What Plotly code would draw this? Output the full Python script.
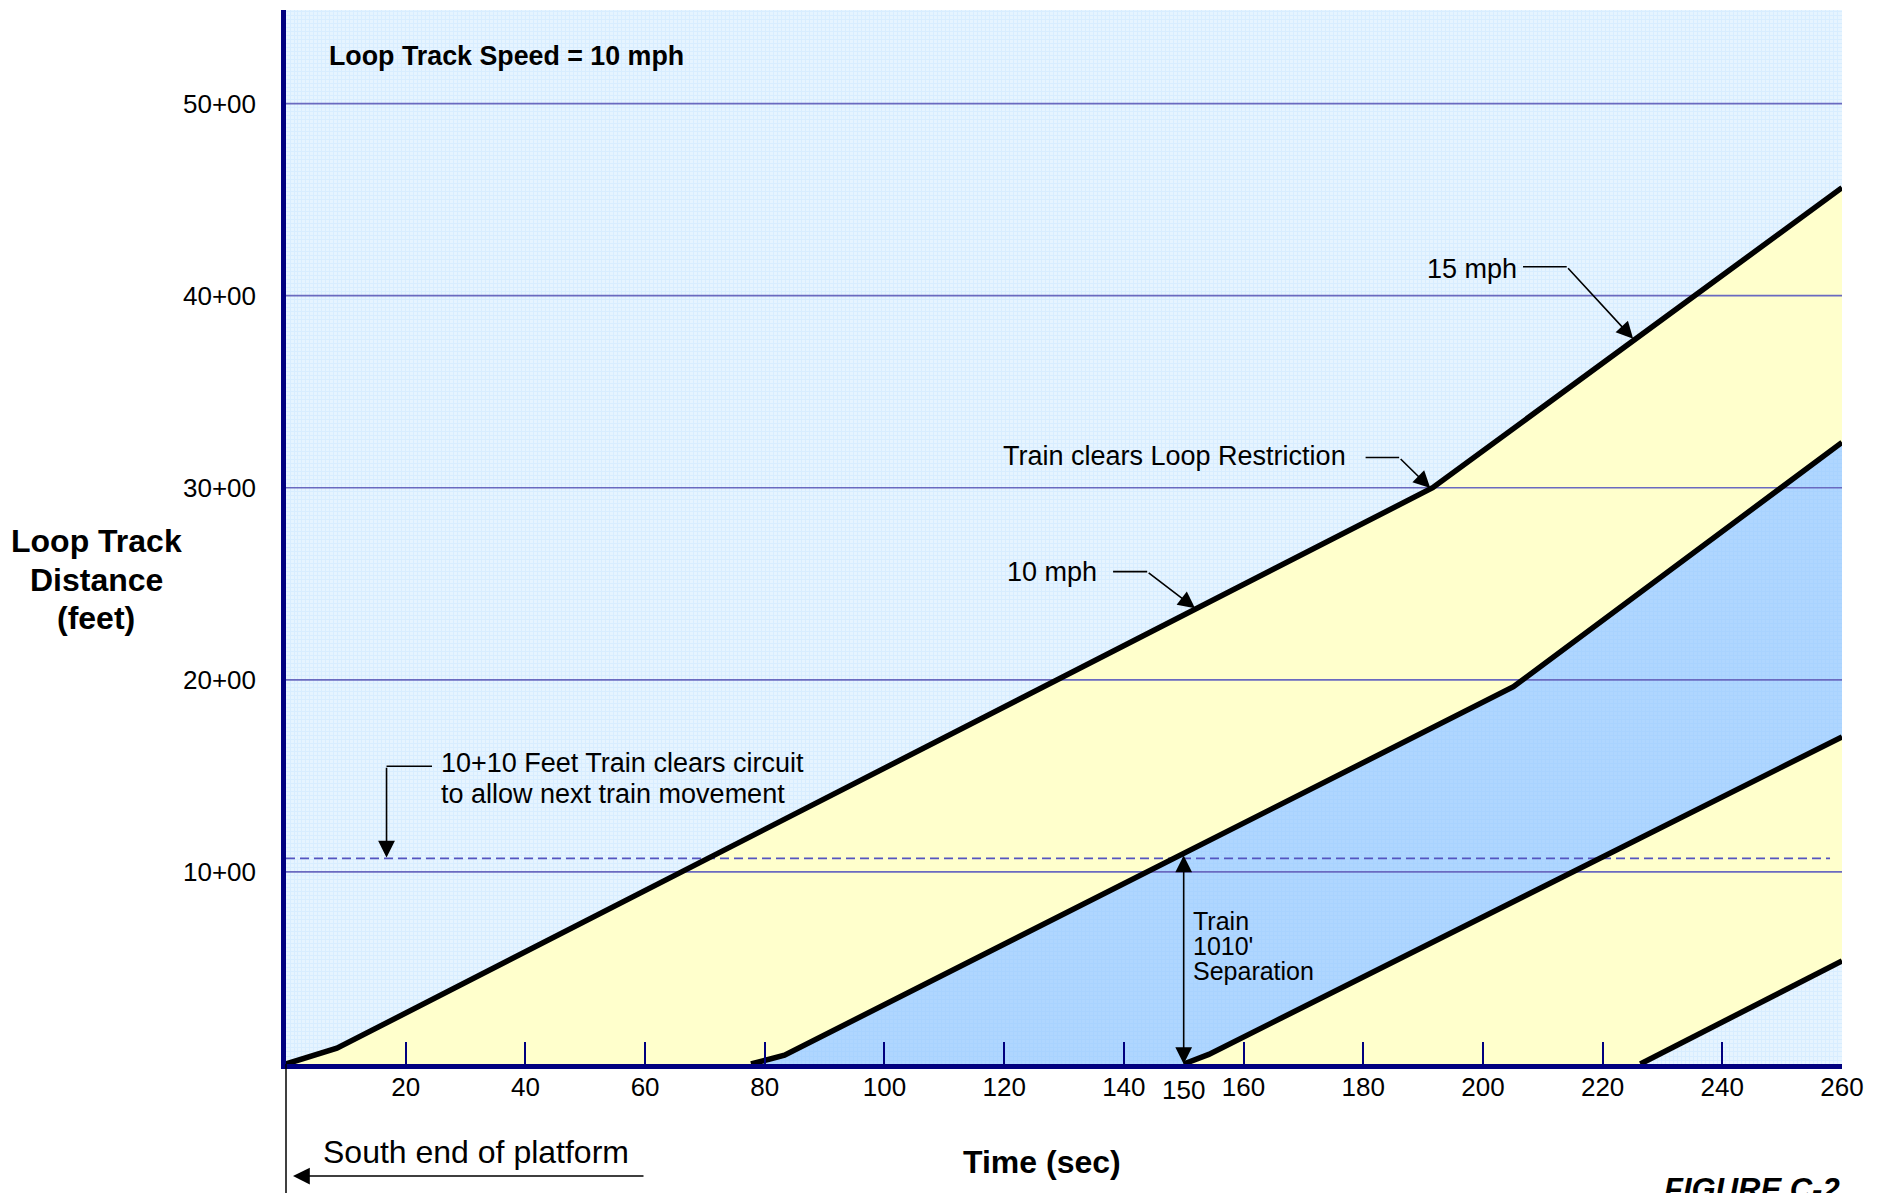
import plotly.graph_objects as go

# ---------------- data ----------------
# time (sec) / loop-track distance (feet) of the train boundary lines
train1_head_t = [0, 8.5, 191.6, 260]
train1_head_d = [0, 82, 3000, 4562]
train1_tail_t = [77.7, 83.3, 205.1, 260]
train1_tail_d = [0, 46, 1964, 3236]
train2_head_t = [150, 154.2, 260]
train2_head_d = [0, 50, 1703]
train2_tail_t = [226.3, 260]
train2_tail_d = [0, 537]

x_tick_vals = [20, 40, 60, 80, 100, 120, 140, 160, 180, 200, 220, 240, 260]
y_tick_vals = [1000, 2000, 3000, 4000, 5000]
y_tick_text = ["10+00", "20+00", "30+00", "40+00", "50+00"]

circuit_clear_d = 1070       # dashed "10+10 feet" line
separation_t = 150           # time of the separation measurement
separation_top_d = 1093      # tail of train 1 at t = 150

X_MAX = 260
Y_MAX = 5487

# ---------------- styles ----------------
FONT = "Arial, Liberation Sans, Helvetica, sans-serif"
NAVY = "#00007F"
GRID = "#6A6AC0"
BG = "#E6F4FF"
YELLOW = "#FFFFCC"
BLUE = "rgba(140,196,255,0.62)"

fig = go.Figure()

# filled bands
def band(top_t, top_d, bot_t, bot_d, color):
    xs = list(top_t) + list(bot_t)[::-1] + [top_t[0]]
    ys = list(top_d) + list(bot_d)[::-1] + [top_d[0]]
    fig.add_trace(go.Scatter(x=xs, y=ys, mode="lines", fill="toself",
                             fillcolor=color, line=dict(width=0),
                             hoverinfo="skip", showlegend=False))

band(train1_head_t, train1_head_d, [0] + train1_tail_t, [0] + train1_tail_d, YELLOW)
band(train1_tail_t, train1_tail_d, train2_head_t, train2_head_d, BLUE)
band(train2_head_t, train2_head_d, train2_tail_t, train2_tail_d, YELLOW)

# horizontal gridlines drawn over the bands
for v in y_tick_vals:
    fig.add_trace(go.Scatter(x=[0, X_MAX], y=[v, v], mode="lines",
                             line=dict(color=GRID, width=1.7),
                             hoverinfo="skip", showlegend=False))

# dashed circuit-clear line
fig.add_trace(go.Scatter(x=[0, 258], y=[circuit_clear_d, circuit_clear_d], mode="lines",
                         line=dict(color="#5454C0", width=1.8, dash="9px,5px"),
                         hoverinfo="skip", showlegend=False))

# thick black train lines
for t, d in [(train1_head_t, train1_head_d), (train1_tail_t, train1_tail_d),
             (train2_head_t, train2_head_d), (train2_tail_t, train2_tail_d)]:
    fig.add_trace(go.Scatter(x=t, y=d, mode="lines",
                             line=dict(color="black", width=5.5),
                             hoverinfo="skip", showlegend=False))

# leader line segments (horizontal parts)
for xs, ys in [([206.7, 214.0], [4150, 4150]),
               ([180.4, 186.0], [3157, 3157]),
               ([138.2, 143.9], [2563, 2563]),
               ([24.4, 16.8], [1550, 1550])]:
    fig.add_trace(go.Scatter(x=xs, y=ys, mode="lines",
                             line=dict(color="black", width=1.6),
                             hoverinfo="skip", showlegend=False))

ann = []

def arrow(x, y, ax, ay, **kw):
    d = dict(x=x, y=y, ax=ax, ay=ay, xref="x", yref="y", axref="x", ayref="y",
             text="", showarrow=True, arrowhead=2, arrowsize=2.1, arrowwidth=1.6,
             arrowcolor="black")
    d.update(kw)
    ann.append(d)

arrow(225.1, 3775, 214.0, 4150)
arrow(191.2, 2998, 186.0, 3157)
arrow(151.9, 2372, 143.9, 2563)
arrow(16.8, circuit_clear_d + 5, 16.8, 1550)
arrow(separation_t, 0, separation_t, separation_top_d, arrowside="end+start",
      startarrowhead=2, startarrowsize=2.1)

def txt(text, x, y, size=27, xanchor="left", xref="x", yref="y", yanchor="middle", **kw):
    ann.append(dict(text=text, x=x, y=y, xref=xref, yref=yref, showarrow=False,
                    xanchor=xanchor, yanchor=yanchor,
                    font=dict(family=FONT, size=size, color="black"), **kw))

txt("15 mph", 206.0, 4140, xanchor="right")
txt("Train clears Loop Restriction", 177.4, 3163, xanchor="right")
txt("10 mph", 135.9, 2561, xanchor="right")
txt("10+10 Feet Train clears circuit", 25.6, 1567)
txt("to allow next train movement", 25.6, 1405)
txt("Train", 151.2, 742, size=25)
txt("1010'", 151.2, 614, size=25)
txt("Separation", 151.2, 486, size=25)

txt("<b>Loop Track Speed = 10 mph</b>", 0.0265, 0.9564, size=26.8, xref="paper", yref="paper")
txt("<b>Loop Track</b>", -0.1221, 0.4962, size=32, xanchor="center", xref="paper", yref="paper")
txt("<b>Distance</b>", -0.1221, 0.4592, size=32, xanchor="center", xref="paper", yref="paper")
txt("<b>(feet)</b>", -0.1221, 0.4231, size=32, xanchor="center", xref="paper", yref="paper")
txt("<b>Time (sec)</b>", 0.4859, -0.0930, size=32, xanchor="center", xref="paper", yref="paper")
txt("150", separation_t, -0.0247, size=26, xanchor="center", yref="paper")
txt("South end of platform", 0.0225, -0.0835, size=32, xref="paper", yref="paper")
txt("<b><i>FIGURE C-2</i></b>", 1.0, -0.1195, size=31, xanchor="right", xref="paper", yref="paper")

# arrow under "South end of platform"
ann.append(dict(x=0.0045, y=-0.1063, xref="paper", yref="paper", ax=352, ay=0,
                text="", showarrow=True, arrowhead=2, arrowsize=2.1, arrowwidth=1.6,
                arrowcolor="black"))

fig.update_layout(
    width=1883, height=1193,
    margin=dict(l=286, r=41, t=10, b=129),
    paper_bgcolor="white", plot_bgcolor=BG,
    font=dict(family=FONT, size=26, color="black"),
    showlegend=False,
    annotations=ann,
    shapes=[dict(type="line", xref="paper", yref="paper", x0=0, x1=0, y0=0, y1=-0.14,
                 line=dict(color="black", width=1.5))],
    xaxis=dict(range=[0, X_MAX], showgrid=False, zeroline=False,
               showline=True, linecolor=NAVY, linewidth=5,
               tickmode="array", tickvals=x_tick_vals,
               ticks="inside", ticklen=22, tickwidth=2, tickcolor=NAVY,
               tickfont=dict(family=FONT, size=26, color="black"),
               ticklabelstandoff=-4, fixedrange=True,
               minor=dict(dtick=0.668, showgrid=True, gridcolor="#D8EDFF", gridwidth=1)),
    yaxis=dict(range=[0, Y_MAX], showgrid=False, zeroline=False,
               showline=True, linecolor=NAVY, linewidth=4.5,
               tickmode="array", tickvals=y_tick_vals, ticktext=y_tick_text,
               ticks="", tickfont=dict(family=FONT, size=26, color="black"),
               ticklabelstandoff=20, fixedrange=True,
               minor=dict(dtick=20.8333, showgrid=True, gridcolor="#D8EDFF", gridwidth=1)),
)

fig.write_html("out.html", config={"displayModeBar": False},
               post_script="document.body.style.margin='0';document.body.style.overflow='hidden';")
